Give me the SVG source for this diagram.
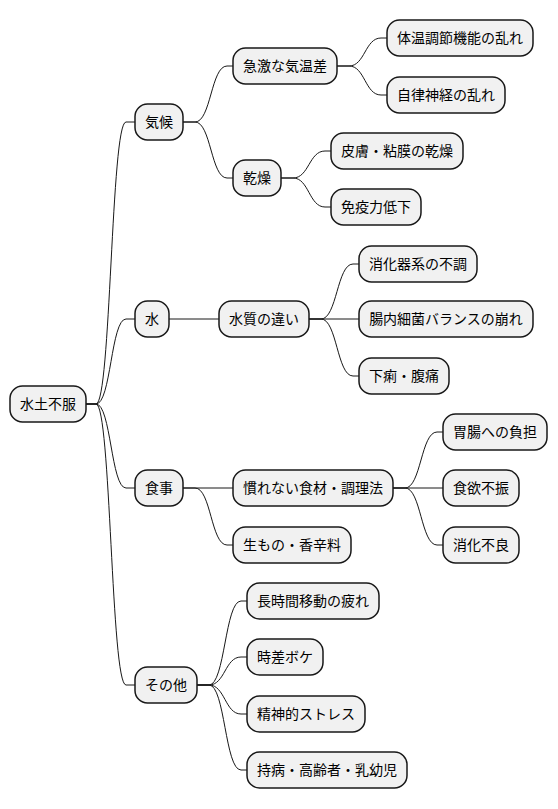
<svg xmlns="http://www.w3.org/2000/svg" width="558" height="809" viewBox="0 0 558 809">
<style>
.n rect{fill:#F1F1F1;stroke:#181818;stroke-width:1.5}
.n text{font-family:"Noto Sans CJK JP","Noto Sans CJK SC",sans-serif;font-size:14px;fill:#000;text-anchor:middle}
.c path{fill:none;stroke:#181818;stroke-width:1}
</style>
<rect width="558" height="809" fill="#FFFFFF"/>
<g class="c" id="connectors">
<path d="M86,404 L96,404 C111,404 111,122 126,122 L135,122"/>
<path d="M86,404 L96,404 C111,404 111,319 126,319 L135,319"/>
<path d="M86,404 L96,404 C111,404 111,488 126,488 L135,488"/>
<path d="M86,404 L96,404 C111,404 111,685 126,685 L135,685"/>
<path d="M183,122 L195,122 C211,122 211,66 227,66 L233,66"/>
<path d="M183,122 L195,122 C211,122 211,178 227,178 L233,178"/>
<path d="M169,319 L219,319"/>
<path d="M183,488 L233,488"/>
<path d="M183,488 L195,488 C211,488 211,545 227,545 L233,545"/>
<path d="M197,685 L209,685 C225,685 225,601 241,601 L247,601"/>
<path d="M197,685 L209,685 C225,685 225,657 241,657 L247,657"/>
<path d="M197,685 L209,685 C225,685 225,714 241,714 L247,714"/>
<path d="M197,685 L209,685 C225,685 225,770 241,770 L247,770"/>
<path d="M337,66 L349,66 C365,66 365,38 381,38 L387,38"/>
<path d="M337,66 L349,66 C365,66 365,95 381,95 L387,95"/>
<path d="M281,178 L293,178 C309,178 309,151 325,151 L331,151"/>
<path d="M281,178 L293,178 C309,178 309,207 325,207 L331,207"/>
<path d="M309,319 L321,319 C337,319 337,264 353,264 L359,264"/>
<path d="M309,319 L359,319"/>
<path d="M309,319 L321,319 C337,319 337,376 353,376 L359,376"/>
<path d="M393,488 L405,488 C421,488 421,432 437,432 L443,432"/>
<path d="M393,488 L443,488"/>
<path d="M393,488 L405,488 C421,488 421,545 437,545 L443,545"/>
</g>
<g class="n" id="root"><rect x="10" y="386" width="76" height="36" rx="12.5"/><text x="48" y="409">水土不服</text></g>
<g class="n" id="kikou"><rect x="135" y="104" width="48" height="36" rx="12.5"/><text x="159" y="127">気候</text></g>
<g class="n" id="mizu"><rect x="135" y="301" width="34" height="36" rx="12.5"/><text x="152" y="324">水</text></g>
<g class="n" id="shokuji"><rect x="135" y="470" width="48" height="36" rx="12.5"/><text x="159" y="493">食事</text></g>
<g class="n" id="sonota"><rect x="135" y="667" width="62" height="36" rx="12.5"/><text x="166" y="690">その他</text></g>
<g class="n" id="kyugeki"><rect x="233" y="48" width="104" height="36" rx="12.5"/><text x="285" y="71">急激な気温差</text></g>
<g class="n" id="kansou"><rect x="233" y="160" width="48" height="36" rx="12.5"/><text x="257" y="183">乾燥</text></g>
<g class="n" id="suishitsu"><rect x="219" y="301" width="90" height="36" rx="12.5"/><text x="264" y="324">水質の違い</text></g>
<g class="n" id="narenai"><rect x="233" y="470" width="160" height="36" rx="12.5"/><text x="313" y="493">慣れない食材・調理法</text></g>
<g class="n" id="namamono"><rect x="233" y="527" width="118" height="36" rx="12.5"/><text x="292" y="550">生もの・香辛料</text></g>
<g class="n" id="chojikan"><rect x="247" y="583" width="132" height="36" rx="12.5"/><text x="313" y="606">長時間移動の疲れ</text></g>
<g class="n" id="jisa"><rect x="247" y="639" width="76" height="36" rx="12.5"/><text x="285" y="662">時差ボケ</text></g>
<g class="n" id="seishin"><rect x="247" y="696" width="118" height="36" rx="12.5"/><text x="306" y="719">精神的ストレス</text></g>
<g class="n" id="jibyou"><rect x="247" y="752" width="160" height="36" rx="12.5"/><text x="327" y="775">持病・高齢者・乳幼児</text></g>
<g class="n" id="taion"><rect x="387" y="20" width="146" height="36" rx="12.5"/><text x="460" y="43">体温調節機能の乱れ</text></g>
<g class="n" id="jiritsu"><rect x="387" y="77" width="118" height="36" rx="12.5"/><text x="446" y="100">自律神経の乱れ</text></g>
<g class="n" id="hifu"><rect x="331" y="133" width="132" height="36" rx="12.5"/><text x="397" y="156">皮膚・粘膜の乾燥</text></g>
<g class="n" id="meneki"><rect x="331" y="189" width="90" height="36" rx="12.5"/><text x="376" y="212">免疫力低下</text></g>
<g class="n" id="shouka"><rect x="359" y="246" width="118" height="36" rx="12.5"/><text x="418" y="269">消化器系の不調</text></g>
<g class="n" id="chounai"><rect x="359" y="301" width="174" height="36" rx="12.5"/><text x="446" y="324">腸内細菌バランスの崩れ</text></g>
<g class="n" id="geri"><rect x="359" y="358" width="90" height="36" rx="12.5"/><text x="404" y="381">下痢・腹痛</text></g>
<g class="n" id="ichou"><rect x="443" y="414" width="104" height="36" rx="12.5"/><text x="495" y="437">胃腸への負担</text></g>
<g class="n" id="shokuyoku"><rect x="443" y="470" width="76" height="36" rx="12.5"/><text x="481" y="493">食欲不振</text></g>
<g class="n" id="shoukafuryou"><rect x="443" y="527" width="76" height="36" rx="12.5"/><text x="481" y="550">消化不良</text></g>
</svg>
